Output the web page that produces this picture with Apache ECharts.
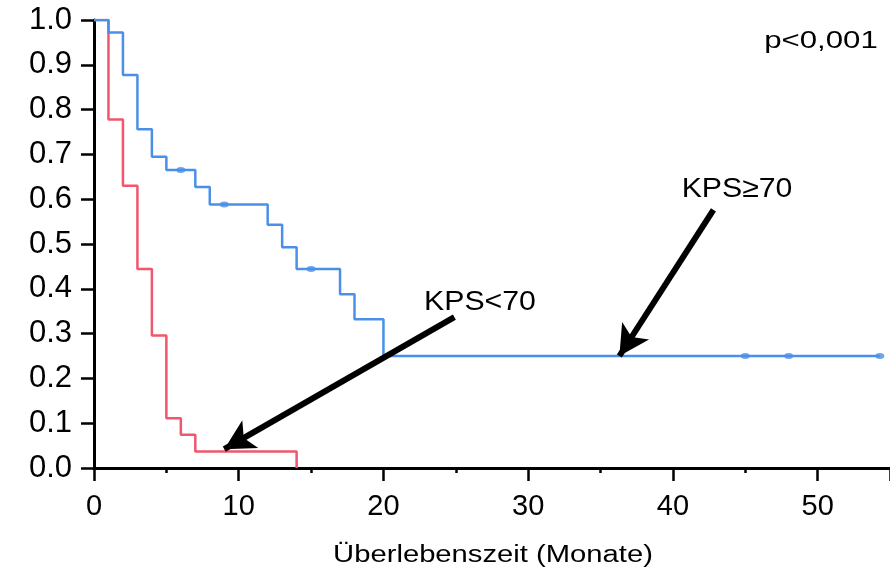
<!DOCTYPE html>
<html><head><meta charset="utf-8">
<script src="https://cdn.jsdelivr.net/npm/echarts@6/dist/echarts.min.js"></script>
<style>html,body{margin:0;padding:0;background:#fff}#c{width:890px;height:577px}</style>
</head><body><div id="c"></div>
<script>
// KPS >= 70 (blue)
const blueTimes = [0, 1, 2, 3, 4, 5, 7, 8, 12, 13, 14, 17, 18, 20, 54.3];
const blueSurv  = [1, 0.972, 0.877, 0.756, 0.695, 0.665, 0.627, 0.588, 0.543, 0.493, 0.444, 0.388, 0.332, 0.25, 0.25];
const blueCensorTimes = [6, 9, 15, 45, 48, 54.3];
const blueCensorSurv  = [0.665, 0.588, 0.444, 0.25, 0.25, 0.25];
// KPS < 70 (red)
const redTimes = [0, 1, 2, 3, 4, 5, 6, 7, 14];
const redSurv  = [1, 0.778, 0.63, 0.444, 0.296, 0.111, 0.074, 0.037, 0];
const yTicks = [0, 0.1, 0.2, 0.3, 0.4, 0.5, 0.6, 0.7, 0.8, 0.9, 1.0];
const xTicks = [0, 10, 20, 30, 40, 50];
// annotation arrows (data coords): [tail, tip]
const arrowHigh = [[42.8, 0.576], [36.3, 0.25]];
const arrowLow  = [[24.9, 0.337], [9.0, 0.042]];

const blue = '#4a90e8', red = '#f0566e';
const FONT = 'Liberation Sans, Arial, sans-serif';
const chart = echarts.init(document.getElementById('c'));
const zip = (a, b) => a.map((v, i) => [v, b[i]]);
function stretchedText(text, cx, cy, size, sx) {
  return {type: 'text', x: cx, y: cy, scaleX: sx, scaleY: 1,
    style: {text: text, x: 0, y: 0, align: 'center', verticalAlign: 'middle',
      fontSize: size, fontFamily: FONT, fill: '#000'}};
}
chart.setOption({
  animation: false,
  grid: {left: 94, top: 20, right: -1, bottom: 109},
  xAxis: [{
    type: 'value', min: 0, max: 55, interval: 10,
    axisLine: {onZero: false, lineStyle: {color: '#000', width: 3}},
    axisTick: {length: 13, lineStyle: {color: '#000', width: 2.5}},
    minorTick: {show: true, splitNumber: 2, length: 5, lineStyle: {color: '#000', width: 2.5}},
    splitLine: {show: false},
    axisLabel: {color: '#000', fontSize: 29, fontFamily: FONT, margin: 24, showMaxLabel: false,
      formatter: v => xTicks.includes(v) ? String(v) : ''}
  }, {
    type: 'value', position: 'top', min: 0, max: 55,
    axisLine: {lineStyle: {color: '#000', width: 3}},
    axisTick: {show: false}, axisLabel: {show: false}, splitLine: {show: false}
  }],
  yAxis: {
    type: 'value', min: 0, max: 1, interval: 0.1,
    axisLine: {show: true, lineStyle: {color: '#000', width: 3}},
    axisTick: {show: true, length: 13, lineStyle: {color: '#000', width: 2.5}},
    splitLine: {show: false},
    axisLabel: {color: '#000', fontSize: 31, fontFamily: FONT, margin: 22,
      formatter: v => yTicks.some(t => Math.abs(t - v) < 1e-9) ? v.toFixed(1) : ''}
  },
  series: [
    {type: 'line', step: 'end', data: zip(redTimes, redSurv), showSymbol: false,
      lineStyle: {color: red, width: 2.5}, itemStyle: {color: red}, z: 2},
    {type: 'line', step: 'end', data: zip(blueTimes, blueSurv), showSymbol: false,
      lineStyle: {color: blue, width: 2.5}, itemStyle: {color: blue}, z: 3,
      markLine: {
        silent: true, symbol: ['none', 'arrow'], symbolSize: [24, 30],
        lineStyle: {color: '#000', width: 6, type: 'solid'}, label: {show: false},
        data: [
          [{coord: arrowHigh[0]}, {coord: arrowHigh[1]}],
          [{coord: arrowLow[0]}, {coord: arrowLow[1]}]
        ]
      }},
    {type: 'scatter', data: zip(blueCensorTimes, blueCensorSurv), symbol: 'circle',
      symbolSize: [9, 6], itemStyle: {color: blue}, z: 4}
  ],
  graphic: [
    stretchedText('KPS≥70', 737, 189, 28, 1.08),
    stretchedText('KPS<70', 480, 302, 28, 1.08),
    stretchedText('p<0,001', 821, 41, 24, 1.3),
    stretchedText('Überlebenszeit (Monate)', 493, 556, 23, 1.27)
  ]
});
</script></body></html>
